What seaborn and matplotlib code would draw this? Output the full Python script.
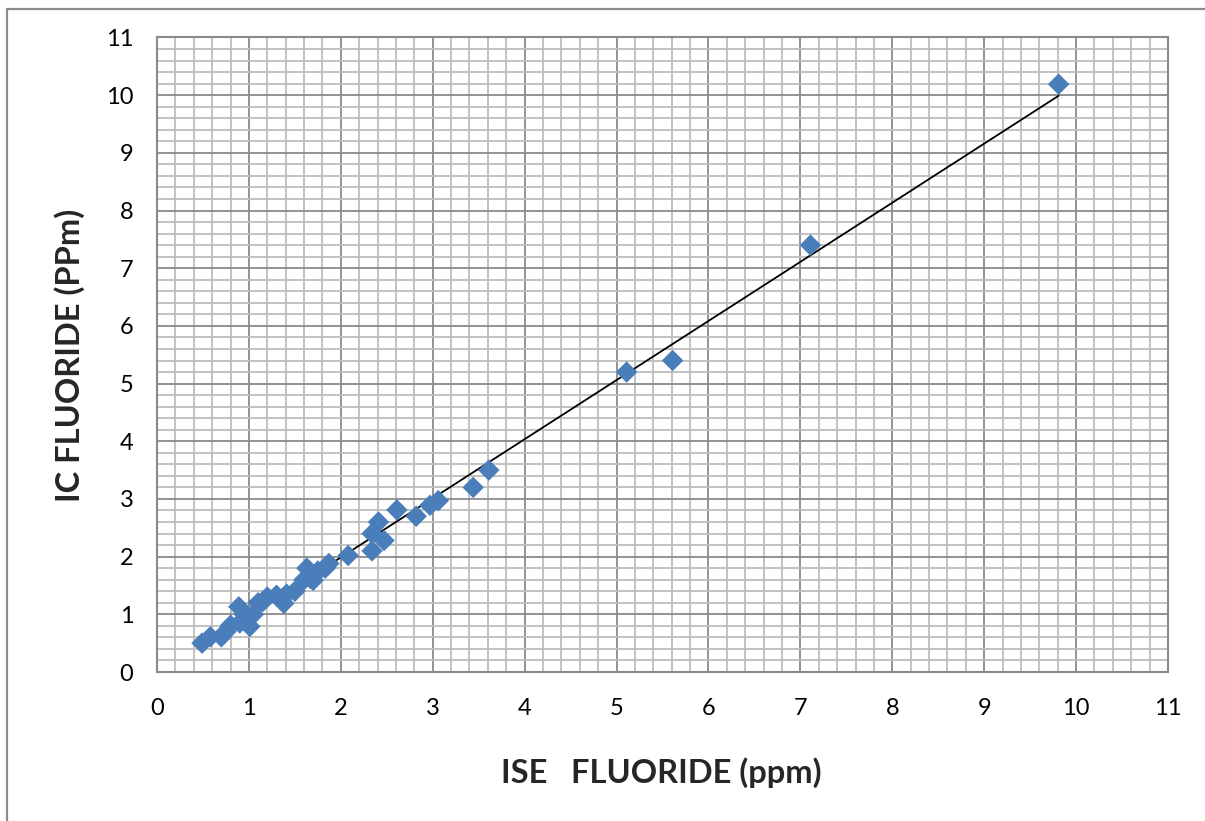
import matplotlib
matplotlib.use("Agg")
import matplotlib.pyplot as plt
from matplotlib.patches import Rectangle
from matplotlib.ticker import MultipleLocator
import numpy as np
import pandas as pd
import seaborn as sns

# Data
ise_fluoride = [0.49, 0.58, 0.70, 0.75, 0.80, 0.89, 0.90, 0.95, 1.01, 1.05,
                1.10, 1.15, 1.20, 1.30, 1.38, 1.41, 1.50, 1.60, 1.63, 1.67,
                1.70, 1.75, 1.83, 1.87, 2.08, 2.34, 2.34, 2.41, 2.47, 2.61,
                2.82, 2.97, 3.06, 3.44, 3.61, 5.11, 5.61, 7.11, 9.81]
ic_fluoride = [0.50, 0.61, 0.61, 0.70, 0.81, 1.13, 0.85, 1.00, 0.79, 1.00,
               1.20, 1.22, 1.30, 1.33, 1.19, 1.35, 1.40, 1.60, 1.80, 1.62,
               1.59, 1.75, 1.80, 1.88, 2.02, 2.10, 2.40, 2.60, 2.28, 2.81,
               2.70, 2.89, 2.97, 3.20, 3.50, 5.20, 5.40, 7.40, 10.19]
axis_ticks = list(range(0, 12))
x_label = "ISE   FLUORIDE (ppm)"
y_label = "IC FLUORIDE (PPm)"

df = pd.DataFrame({"ise": ise_fluoride, "ic": ic_fluoride})

sns.set_style("white")
plt.rcParams["font.family"] = ["Lato", "DejaVu Sans"]

W, H = 1205, 821
fig = plt.figure(figsize=(W / 100, H / 100), dpi=100)
ax = fig.add_axes([157 / W, 1 - 672 / H, (1168 - 157) / W, (672 - 37.5) / H])

major_c = "#8a8a8a"
minor_c = "#bdbdbd"

ax.set_xlim(0, 11)
ax.set_ylim(0, 11)
ax.xaxis.set_major_locator(MultipleLocator(1))
ax.yaxis.set_major_locator(MultipleLocator(1))
ax.xaxis.set_minor_locator(MultipleLocator(0.2))
ax.yaxis.set_minor_locator(MultipleLocator(0.2))
ax.grid(which="minor", color=minor_c, linewidth=1.3, zorder=0)
ax.grid(which="major", color=major_c, linewidth=1.3, zorder=0)
ax.set_axisbelow(True)
ax.set_xticks(axis_ticks)
ax.set_yticks(axis_ticks)
ax.set_xticklabels([str(t) for t in axis_ticks])
ax.set_yticklabels([str(t) for t in axis_ticks])
ax.tick_params(which="major", direction="out", length=6, width=1.3,
               color=major_c, labelsize=17, pad=13, labelcolor="black")
ax.tick_params(axis="y", which="major", pad=11)
ax.tick_params(which="minor", length=0)
for s in ax.spines.values():
    s.set_color(major_c)
    s.set_linewidth(1.5)

sns.regplot(data=df, x="ise", y="ic", scatter=False, ci=None, truncate=True,
            color="black", line_kws={"linewidth": 1.3, "zorder": 3}, ax=ax)
sns.scatterplot(data=df, x="ise", y="ic", marker="D", s=120, color="#4a7ebb",
                edgecolor="none", linewidth=0, zorder=4, ax=ax)

ax.set_xlabel("")
ax.set_ylabel("")
fig.text(661 / W, 1 - 773 / H, x_label, ha="center", va="center",
         fontsize=23.5, fontweight="bold")
fig.text(70 / W, 1 - 355 / H, y_label, ha="center", va="center",
         fontsize=23.5, fontweight="bold", rotation=90)

# outer chart frame
fig.patches.append(Rectangle((6.5 / W, -0.2), 2.0, 0.2 + 1 - 8.5 / H,
                             transform=fig.transFigure, fill=False,
                             edgecolor="#8c8c8c", linewidth=1.6))

fig.savefig("out.png", dpi=100)
